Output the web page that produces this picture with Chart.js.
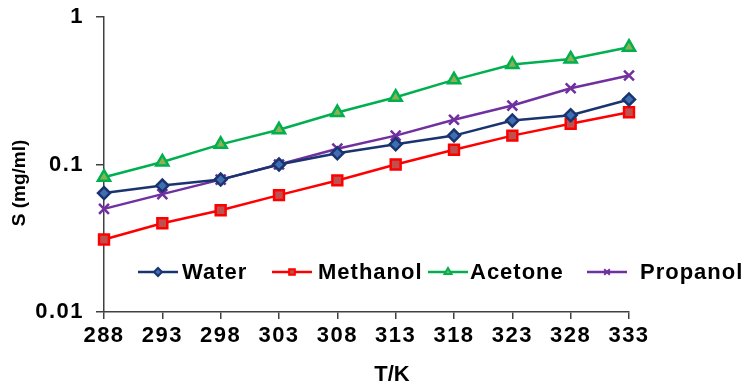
<!DOCTYPE html>
<html>
<head>
<meta charset="utf-8">
<script src="https://cdn.jsdelivr.net/npm/chart.js"></script>
<style>
  html, body { margin: 0; padding: 0; background: #fff; }
  #wrap { width: 749px; height: 384px; position: relative; }
</style>
</head>
<body>
<div id="wrap"><canvas id="solubilityChart"></canvas></div>
<script>
const temperatures = ['288', '293', '298', '303', '308', '313', '318', '323', '328', '333'];
const water    = [0.064, 0.072, 0.079, 0.100, 0.119, 0.137, 0.157, 0.199, 0.216, 0.276];
const methanol = [0.031, 0.040, 0.049, 0.062, 0.078, 0.100, 0.126, 0.157, 0.189, 0.226];
const acetone  = [0.082, 0.104, 0.137, 0.172, 0.225, 0.286, 0.375, 0.476, 0.520, 0.624];
const propanol = [0.050, 0.063, 0.079, 0.100, 0.128, 0.157, 0.201, 0.251, 0.329, 0.401];
const yTicks = [0.01, 0.1, 1];

const FONT = '"Liberation Sans", Arial, sans-serif';

// legend drawn inside the plot on one row, plus the axis titles
const insideLegend = {
  id: 'insideLegend',
  beforeDraw(chart) {
    // the reference text is a little wider than the font
    chart.ctx.letterSpacing = '1.5px';
  },
  afterDraw(chart, args, opts) {
    const ctx = chart.ctx;
    ctx.save();
    chart.data.datasets.forEach((ds, i) => {
      const x0 = opts.starts[i];
      const y = opts.y;
      ctx.strokeStyle = ds.borderColor;
      ctx.lineWidth = 2.5;
      ctx.beginPath();
      ctx.moveTo(x0, y);
      ctx.lineTo(x0 + 40, y);
      ctx.stroke();
      ctx.fillStyle = ds.pointBackgroundColor;
      ctx.strokeStyle = ds.pointBorderColor;
      ctx.lineWidth = 2;
      Chart.helpers.drawPoint(ctx, {
        pointStyle: ds.pointStyle, radius: 4, borderWidth: 2, rotation: 0
      }, x0 + 20, y);
      ctx.fillStyle = '#000';
      ctx.font = 'bold 22px ' + FONT;
      ctx.letterSpacing = '1px';
      ctx.textBaseline = 'middle';
      ctx.textAlign = 'left';
      ctx.fillText(ds.label, x0 + opts.textGap[i], y + 1);
    });
    ctx.fillStyle = '#000';
    ctx.textAlign = 'center';
    ctx.textBaseline = 'middle';
    // x axis title
    ctx.letterSpacing = '0px';
    ctx.font = 'bold 22px ' + FONT;
    ctx.fillText('T/K', opts.xTitle[0], opts.xTitle[1]);
    // y axis title
    ctx.translate(opts.yTitle[0], opts.yTitle[1]);
    ctx.rotate(-Math.PI / 2);
    ctx.font = 'bold 19px ' + FONT;
    ctx.fillText('S (mg/ml)', 0, 0);
    ctx.restore();
  }
};

function series(label, data, line, fill, style, radius) {
  return {
    label: label,
    data: data,
    borderColor: line,
    backgroundColor: line,
    borderWidth: 2.5,
    pointStyle: style,
    pointRadius: radius,
    pointBorderWidth: 2.5,
    pointBackgroundColor: fill,
    pointBorderColor: line,
    tension: 0
  };
}

new Chart(document.getElementById('solubilityChart'), {
  type: 'line',
  data: {
    labels: temperatures,
    datasets: [
      series('Water', water, '#1a3470', '#3f6fb0', 'rectRot', 6),
      series('Methanol', methanol, '#ff0000', '#c0504d', 'rect', 7),
      series('Acetone', acetone, '#00b050', '#8db050', 'triangle', 7),
      series('Propanol', propanol, '#7030a0', '#7030a0', 'crossRot', 7)
    ]
  },
  options: {
    responsive: true,
    maintainAspectRatio: false,
    animation: false,
    layout: { padding: { left: 0, right: 120, top: 17, bottom: 0 } },
    plugins: {
      legend: { display: false },
      tooltip: { enabled: false },
      insideLegend: {
        y: 272,
        starts: [138, 272, 428, 587],
        textGap: [44, 46, 42, 53],
        xTitle: [392, 375],
        yTitle: [20, 183]
      }
    },
    scales: {
      x: {
        type: 'category',
        offset: false,
        afterFit: (scale) => { scale.height = 72; scale.paddingLeft = 0; scale.paddingRight = 0; },
        grid: {
          display: true, drawOnChartArea: false, drawTicks: true,
          tickLength: 7, color: '#404040', lineWidth: 1.5
        },
        border: { display: true, color: '#404040', width: 1.5 },
        ticks: {
          color: '#000', padding: 4, maxRotation: 0, autoSkip: false,
          font: { family: FONT, size: 22, weight: 'bold' }
        }
      },
      y: {
        type: 'logarithmic',
        min: 0.01,
        max: 1,
        afterFit: (scale) => { scale.width = 104; scale.paddingTop = 0; scale.paddingBottom = 0; },
        afterBuildTicks: (scale) => { scale.ticks = yTicks.map(v => ({ value: v })); },
        grid: {
          display: true, drawOnChartArea: false, drawTicks: true,
          tickLength: 8, color: '#404040', lineWidth: 1.5
        },
        border: { display: true, color: '#404040', width: 1.5 },
        ticks: {
          color: '#000', padding: 12,
          font: { family: FONT, size: 22, weight: 'bold' },
          callback: (v) => String(v)
        }
      }
    }
  },
  plugins: [insideLegend]
});
</script>
</body>
</html>
